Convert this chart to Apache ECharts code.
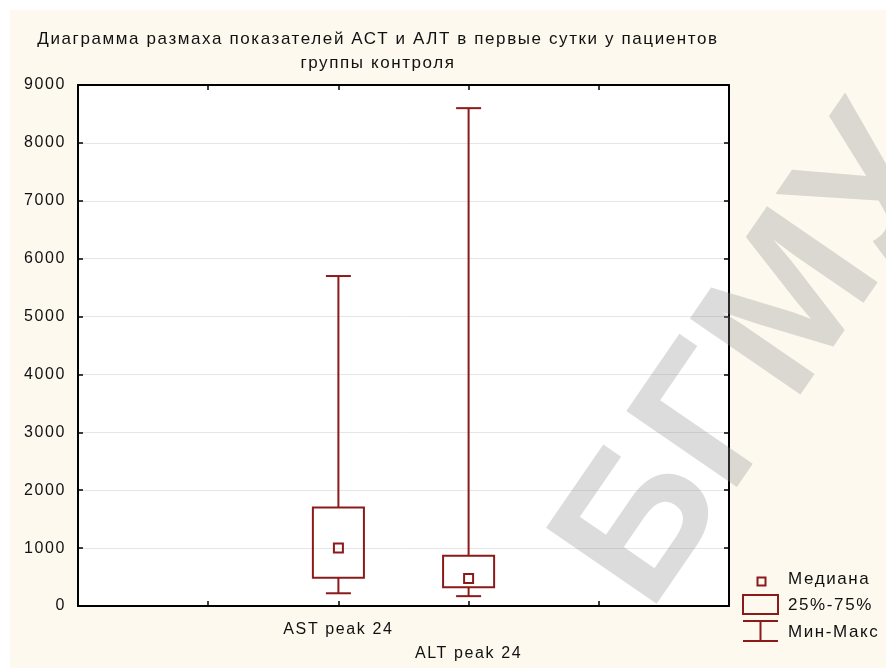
<!DOCTYPE html>
<html>
<head>
<meta charset="utf-8">
<script src="https://cdn.jsdelivr.net/npm/echarts@6/dist/echarts.min.js"></script>
<style>
  html, body { margin: 0; padding: 0; background: #ffffff; }
  #chart { position: absolute; left: 10px; top: 10px; width: 876px; height: 658px; }
</style>
</head>
<body>
<div id="chart"></div>
<script>
// ---- data ----
const categories = ['AST peak 24', 'ALT peak 24'];
const minVals    = [220, 170];
const q1Vals     = [490, 325];
const medianVals = [1000, 475];
const q3Vals     = [1700, 870];
const maxVals    = [5700, 8600];
const yTicks     = { min: 0, max: 9000, interval: 1000 };
const xRange     = { min: 0, max: 5, interval: 1 };
const firstPos   = 2; // categories sit on ticks 2 and 3
const legendLabels = ['Медиана', '25%-75%', 'Мин-Макс'];
const titleText = 'Диаграмма размаха показателей АСТ и АЛТ в первые сутки у пациентов\nгруппы контроля';
const watermark = 'БГМУ';

// Statistica-like letter spacing for canvas text
(function () {
  const P = CanvasRenderingContext2D.prototype;
  const of = P.fillText, om = P.measureText, os = P.strokeText;
  const LS = '1.6px';
  P.fillText = function () { try { this.letterSpacing = LS; } catch (e) {} return of.apply(this, arguments); };
  P.strokeText = function () { try { this.letterSpacing = LS; } catch (e) {} return os.apply(this, arguments); };
  P.measureText = function () { try { this.letterSpacing = LS; } catch (e) {} return om.apply(this, arguments); };
})();

const RED = '#8b1a1a';
const FONT = "'Liberation Sans', Arial, sans-serif";
const boxData = categories.map((c, i) => [i + firstPos, minVals[i], q1Vals[i], medianVals[i], q3Vals[i], maxVals[i]]);
const labelMap = {};
categories.forEach((c, i) => { labelMap[i + firstPos] = (i % 2 === 1 ? '\n' : '') + c; });

const chart = echarts.init(document.getElementById('chart'), null, { renderer: 'canvas' });

const axisLine = { show: true, onZero: false, lineStyle: { color: '#000', width: 2 } };
const axisTick = { show: true, inside: true, length: 5, lineStyle: { color: '#000', width: 1.5 } };

const lg = { x: 733, y: 561 }; // legend anchor (container coords)
const lstyle = { stroke: RED, lineWidth: 2, fill: null };
const ltext = { fill: '#111', font: "17px " + FONT, textVerticalAlign: 'middle' };

const wmAngle = 55.5 * Math.PI / 180;

chart.setOption({
  backgroundColor: '#fdf9ee',
  animation: false,
  title: {
    text: titleText,
    left: 363,
    top: 12,
    textAlign: 'center',
    textStyle: { fontFamily: FONT, fontSize: 17, fontWeight: 'normal', color: '#111', lineHeight: 24 }
  },
  grid: { left: 68, top: 75, right: 157, bottom: 62, show: true, backgroundColor: '#ffffff', borderWidth: 0 },
  xAxis: [
    {
      type: 'value', position: 'bottom', min: xRange.min, max: xRange.max, interval: xRange.interval,
      axisLine, axisTick, splitLine: { show: false },
      axisLabel: {
        margin: 12, color: '#111', fontFamily: FONT, fontSize: 16, lineHeight: 24,
        showMinLabel: true, showMaxLabel: true,
        formatter: v => labelMap[v] || ''
      }
    },
    {
      type: 'value', position: 'top', min: xRange.min, max: xRange.max, interval: xRange.interval,
      axisLine, axisTick, splitLine: { show: false }, axisLabel: { show: false }
    }
  ],
  yAxis: [
    {
      type: 'value', position: 'left', min: yTicks.min, max: yTicks.max, interval: yTicks.interval,
      axisLine, axisTick,
      splitLine: { show: true, lineStyle: { color: '#e6e6e6', width: 1 } },
      axisLabel: { margin: 12, color: '#111', fontFamily: FONT, fontSize: 16, formatter: v => String(v) }
    },
    {
      type: 'value', position: 'right', min: yTicks.min, max: yTicks.max, interval: yTicks.interval,
      axisLine, axisTick, splitLine: { show: false }, axisLabel: { show: false }
    }
  ],
  series: [{
    type: 'custom',
    xAxisIndex: 0, yAxisIndex: 0,
    data: boxData,
    z: 5,
    renderItem: function (params, api) {
      const x = api.value(0);
      const pMin = api.coord([x, api.value(1)]);
      const pQ1 = api.coord([x, api.value(2)]);
      const pMed = api.coord([x, api.value(3)]);
      const pQ3 = api.coord([x, api.value(4)]);
      const pMax = api.coord([x, api.value(5)]);
      const unit = api.size([1, 0])[0];
      const hw = unit * 0.196, cw = unit * 0.096, ms = 4.5;
      const style = { stroke: RED, fill: null, lineWidth: 2 };
      return {
        type: 'group',
        children: [
          { type: 'line', shape: { x1: pMax[0], y1: pMax[1], x2: pQ3[0], y2: pQ3[1] }, style },
          { type: 'line', shape: { x1: pQ1[0], y1: pQ1[1], x2: pMin[0], y2: pMin[1] }, style },
          { type: 'line', shape: { x1: pMax[0] - cw, y1: pMax[1], x2: pMax[0] + cw, y2: pMax[1] }, style },
          { type: 'line', shape: { x1: pMin[0] - cw, y1: pMin[1], x2: pMin[0] + cw, y2: pMin[1] }, style },
          { type: 'rect', shape: { x: pQ3[0] - hw, y: pQ3[1], width: 2 * hw, height: pQ1[1] - pQ3[1] }, style },
          { type: 'rect', shape: { x: pMed[0] - ms, y: pMed[1] - ms, width: 2 * ms, height: 2 * ms }, style }
        ]
      };
    }
  }],
  graphic: [
    // legend
    { type: 'rect', shape: { x: lg.x + 14.5, y: lg.y + 6.5, width: 8, height: 8 }, style: lstyle, z: 20 },
    { type: 'text', x: lg.x + 45, y: lg.y + 8, style: Object.assign({ text: legendLabels[0] }, ltext), z: 20 },
    { type: 'rect', shape: { x: lg.x, y: lg.y + 24, width: 35, height: 19 }, style: lstyle, z: 20 },
    { type: 'text', x: lg.x + 45, y: lg.y + 34, style: Object.assign({ text: legendLabels[1] }, ltext), z: 20 },
    { type: 'line', shape: { x1: lg.x, y1: lg.y + 50, x2: lg.x + 35, y2: lg.y + 50 }, style: lstyle, z: 20 },
    { type: 'line', shape: { x1: lg.x + 17.5, y1: lg.y + 50, x2: lg.x + 17.5, y2: lg.y + 70 }, style: lstyle, z: 20 },
    { type: 'line', shape: { x1: lg.x, y1: lg.y + 70, x2: lg.x + 35, y2: lg.y + 70 }, style: lstyle, z: 20 },
    { type: 'text', x: lg.x + 45, y: lg.y + 61, style: Object.assign({ text: legendLabels[2] }, ltext), z: 20 },
    // watermark
    {
      type: 'text', x: 595, y: 574, rotation: wmAngle, z: 100,
      style: {
        text: watermark, fill: 'rgba(140,140,140,0.3)',
        font: "bold 195px " + FONT, textAlign: 'left', textVerticalAlign: 'middle'
      }
    }
  ]
});
</script>
</body>
</html>
